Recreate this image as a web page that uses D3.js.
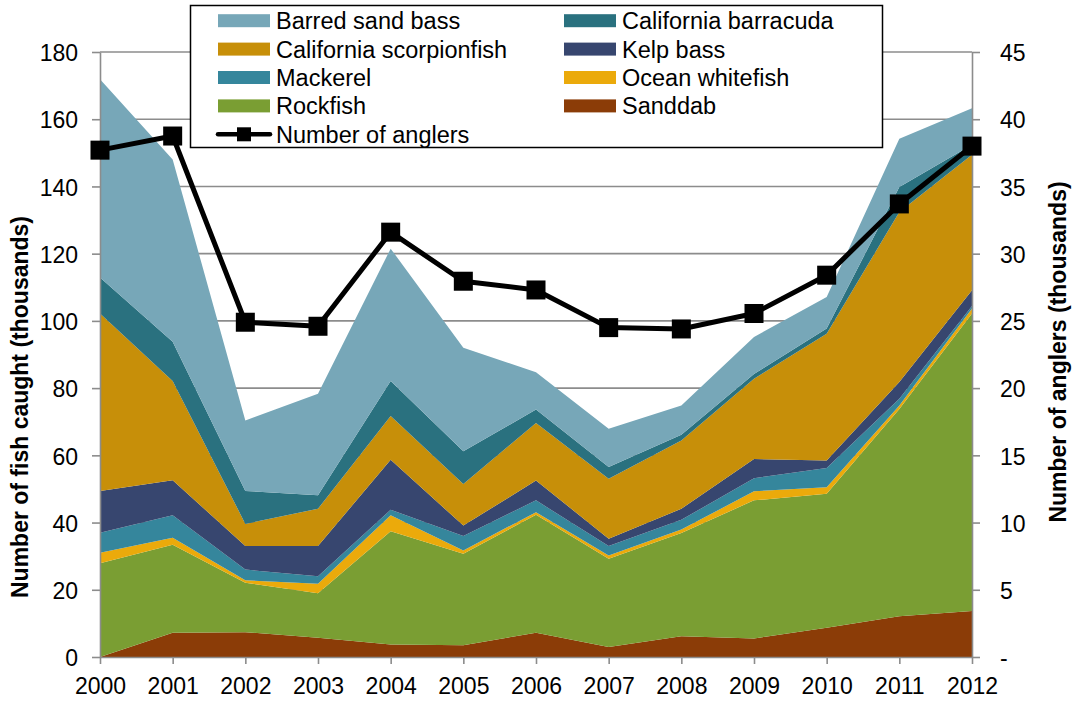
<!DOCTYPE html>
<html>
<head>
<meta charset="utf-8">
<script src="https://cdn.jsdelivr.net/npm/d3@7"></script>
<style>
  html, body { margin: 0; padding: 0; background: #ffffff; }
  svg { display: block; font-family: "Liberation Sans", Arial, sans-serif; }
</style>
</head>
<body>
<svg id="chart" width="1074" height="702"></svg>
<script>
// Recreational catch by species (thousands of fish) and number of anglers (thousands)
const years = [2000, 2001, 2002, 2003, 2004, 2005, 2006, 2007, 2008, 2009, 2010, 2011, 2012];

const sanddab        = [0.0, 7.2, 7.4, 5.7, 3.7, 3.5, 7.2, 3.0, 6.2, 5.5, 8.7, 12.1, 13.7];
const rockfish       = [27.9, 26.2, 14.7, 13.3, 33.7, 27.2, 35.1, 26.2, 30.7, 41.1, 39.9, 61.7, 88.5];
const oceanWhitefish = [3.1, 2.1, 0.7, 2.8, 4.8, 1.0, 0.8, 1.0, 1.0, 2.7, 1.9, 1.0, 1.5];
const mackerel       = [6.0, 6.7, 3.2, 2.2, 1.6, 4.3, 3.5, 2.8, 2.9, 3.9, 5.7, 2.0, 0.7];
const kelpBass       = [12.4, 10.4, 7.0, 9.0, 14.9, 3.1, 5.9, 2.2, 3.3, 5.7, 2.3, 5.0, 4.7];
const scorpionfish   = [52.8, 29.5, 6.6, 11.1, 13.0, 12.4, 17.1, 17.8, 20.3, 23.9, 37.7, 50.6, 40.3];
const barracuda      = [10.7, 11.7, 9.8, 4.0, 10.4, 9.7, 4.0, 3.5, 1.7, 1.4, 1.5, 7.4, 3.0];
const barredSandBass = [59.0, 54.2, 21.0, 30.2, 39.4, 30.8, 11.1, 11.4, 8.7, 11.0, 9.4, 14.4, 10.9];

const anglers = [37.7, 38.75, 24.9, 24.6, 31.6, 27.95, 27.3, 24.5, 24.4, 25.55, 28.4, 33.7, 38.0];

const leftTicks = [0, 20, 40, 60, 80, 100, 120, 140, 160, 180];
const rightTicks = [0, 5, 10, 15, 20, 25, 30, 35, 40, 45];

// Stack order, bottom to top
const seriesNames = ["Sanddab", "Rockfish", "Ocean whitefish", "Mackerel", "Kelp bass",
                     "California scorpionfish", "California barracuda", "Barred sand bass"];
const seriesValues = [sanddab, rockfish, oceanWhitefish, mackerel, kelpBass,
                      scorpionfish, barracuda, barredSandBass];
const seriesColors = ["#8b3c07", "#7a9e33", "#ebaa0b", "#35869c", "#37466f",
                      "#c78f09", "#2a717f", "#77a7b8"];

const rows = years.map((yr, i) => {
  const r = { year: yr };
  seriesNames.forEach((n, k) => { r[n] = seriesValues[k][i]; });
  return r;
});

const svg = d3.select("#chart");
const X0 = 100, X1 = 972, Y0 = 657, Y1 = 52;
const FONT = 23;
const LEGEND_FONT = 23.5;
const AXIS_GREY = "#8c8c8c";

const x = d3.scaleLinear().domain([2000, 2012]).range([X0, X1]);
const yL = d3.scaleLinear().domain([0, 180]).range([Y0, Y1]);
const yR = d3.scaleLinear().domain([0, 45]).range([Y0, Y1]);

// Horizontal gridlines
svg.append("g")
  .selectAll("line")
  .data(leftTicks.filter(d => d > 0))
  .join("line")
  .attr("x1", X0).attr("x2", X1)
  .attr("y1", d => yL(d)).attr("y2", d => yL(d))
  .attr("stroke", AXIS_GREY).attr("stroke-width", 1.6);

// Stacked areas
const stack = d3.stack().keys(seriesNames).order(d3.stackOrderNone).offset(d3.stackOffsetNone);
const layers = stack(rows);
const area = d3.area()
  .x(d => x(d.data.year))
  .y0(d => yL(d[0]))
  .y1(d => yL(d[1]));

svg.append("g")
  .selectAll("path")
  .data(layers)
  .join("path")
  .attr("d", area)
  .attr("fill", (d, i) => seriesColors[i]);

// Axes
function styleAxis(g) {
  g.selectAll(".domain").attr("stroke", AXIS_GREY).attr("stroke-width", 1.6);
  g.selectAll(".tick line").attr("stroke", AXIS_GREY).attr("stroke-width", 1.6);
  g.selectAll("text").attr("fill", "#000").attr("font-size", FONT)
    .attr("font-family", "'Liberation Sans', Arial, sans-serif");
}

svg.append("g")
  .attr("transform", `translate(${X0},0)`)
  .call(d3.axisLeft(yL).tickValues(leftTicks).tickSizeInner(8).tickSizeOuter(0).tickPadding(14)
    .tickFormat(d3.format("d")))
  .call(styleAxis)
  .call(g => g.selectAll("text").attr("dy", "0.38em"));

svg.append("g")
  .attr("transform", `translate(${X1},0)`)
  .call(d3.axisRight(yR).tickValues(rightTicks).tickSizeInner(8).tickSizeOuter(0).tickPadding(20)
    .tickFormat(d => d === 0 ? "-" : d3.format("d")(d)))
  .call(styleAxis)
  .call(g => g.selectAll("text").attr("dy", "0.38em"));

svg.append("g")
  .attr("transform", `translate(0,${Y0})`)
  .call(d3.axisBottom(x).tickValues(years).tickSizeInner(7).tickSizeOuter(0).tickPadding(14)
    .tickFormat(d3.format("d")))
  .call(styleAxis);

// Axis titles
svg.append("text")
  .attr("transform", `translate(28,407) rotate(-90)`)
  .attr("text-anchor", "middle")
  .attr("font-size", FONT).attr("font-weight", "bold")
  .text("Number of fish caught (thousands)");

svg.append("text")
  .attr("transform", `translate(1066,352) rotate(-90)`)
  .attr("text-anchor", "middle")
  .attr("font-size", FONT).attr("font-weight", "bold")
  .text("Number of anglers (thousands)");

// Anglers line with square markers
const line = d3.line()
  .x((d, i) => x(years[i]))
  .y(d => yR(d));

svg.append("path")
  .datum(anglers)
  .attr("d", line)
  .attr("fill", "none")
  .attr("stroke", "#000")
  .attr("stroke-width", 5)
  .attr("stroke-linejoin", "round");

const M = 19;
svg.append("g")
  .selectAll("rect")
  .data(anglers)
  .join("rect")
  .attr("x", (d, i) => x(years[i]) - M / 2)
  .attr("y", d => yR(d) - M / 2)
  .attr("width", M).attr("height", M)
  .attr("fill", "#000");

// Legend
const legend = svg.append("g");
legend.append("rect")
  .attr("x", 190.5).attr("y", 5.5).attr("width", 692).attr("height", 142)
  .attr("fill", "#fff").attr("stroke", "#000").attr("stroke-width", 1.5);

const legendItems = [
  { name: "Barred sand bass", col: 0, row: 0 },
  { name: "California barracuda", col: 1, row: 0 },
  { name: "California scorpionfish", col: 0, row: 1 },
  { name: "Kelp bass", col: 1, row: 1 },
  { name: "Mackerel", col: 0, row: 2 },
  { name: "Ocean whitefish", col: 1, row: 2 },
  { name: "Rockfish", col: 0, row: 3 },
  { name: "Sanddab", col: 1, row: 3 }
];
const LX = [218, 564], ROW0 = 20.7, ROWH = 28.4, SW = 52, SH = 13;

legendItems.forEach(it => {
  const k = seriesNames.indexOf(it.name);
  const cy = ROW0 + it.row * ROWH;
  legend.append("rect")
    .attr("x", LX[it.col]).attr("y", cy - SH / 2)
    .attr("width", SW).attr("height", SH)
    .attr("fill", seriesColors[k]);
  legend.append("text")
    .attr("x", LX[it.col] + SW + 6).attr("y", cy).attr("dy", "0.36em")
    .attr("font-size", LEGEND_FONT).text(it.name);
});

const lyLine = ROW0 + 4 * ROWH;
legend.append("line")
  .attr("x1", LX[0]).attr("x2", LX[0] + SW)
  .attr("y1", lyLine).attr("y2", lyLine)
  .attr("stroke", "#000").attr("stroke-width", 4.5).attr("stroke-linecap", "round");
legend.append("rect")
  .attr("x", LX[0] + SW / 2 - 7).attr("y", lyLine - 7)
  .attr("width", 14).attr("height", 14).attr("fill", "#000");
legend.append("text")
  .attr("x", LX[0] + SW + 6).attr("y", lyLine).attr("dy", "0.36em")
  .attr("font-size", LEGEND_FONT).text("Number of anglers");
</script>
</body>
</html>
